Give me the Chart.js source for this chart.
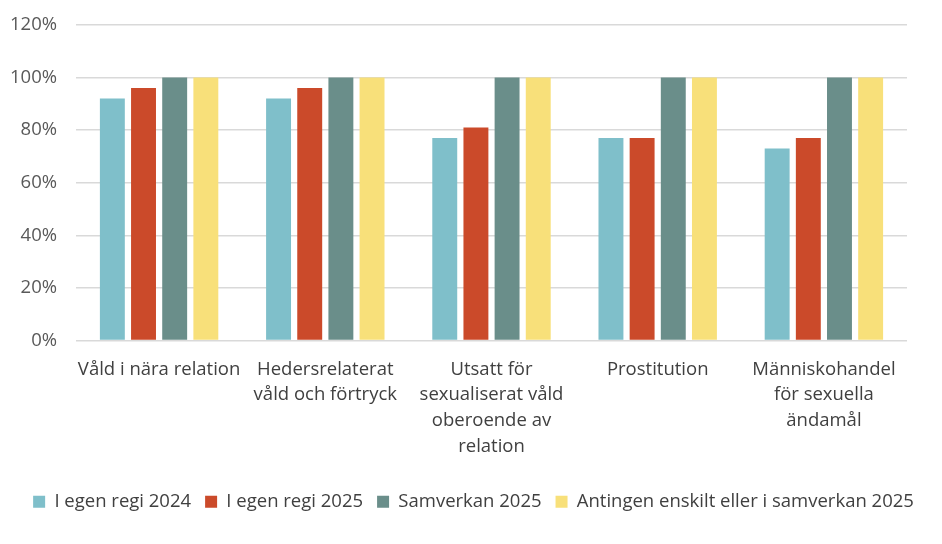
<!DOCTYPE html>
<html>
<head>
<meta charset="utf-8">
<script src="https://cdn.jsdelivr.net/npm/chart.js@4/dist/chart.umd.min.js"></script>
<style>
  html, body { margin: 0; padding: 0; background: #fff; }
  #wrap { width: 942px; height: 544px; }
</style>
</head>
<body>
<div id="wrap"><canvas id="barChart"></canvas></div>
<script>
const categories = [
    ['Våld i nära relation'],
    ['Hedersrelaterat', 'våld och förtryck'],
    ['Utsatt för', 'sexualiserat våld', 'oberoende av', 'relation'],
    ['Prostitution'],
    ['Människohandel', 'för sexuella', 'ändamål']
];
const egenRegi2024 = [92, 92, 77, 77, 73];
const egenRegi2025 = [96, 96, 81, 77, 77];
const samverkan2025 = [100, 100, 100, 100, 100];
const antingen2025 = [100, 100, 100, 100, 100];
const yTicks = [0, 20, 40, 60, 80, 100, 120];

const textColor = '#404040';
const gridColor = '#d9d9d9';

Chart.defaults.font.family = '"Open Sans", sans-serif';
Chart.defaults.font.size = 18.5;
Chart.defaults.color = textColor;

const ctx = document.getElementById('barChart').getContext('2d');
window.myChart = new Chart(ctx, {
    type: 'bar',
    data: {
        labels: categories,
        datasets: [
            { label: 'I egen regi 2024', data: egenRegi2024, backgroundColor: '#7fbfca' },
            { label: 'I egen regi 2025', data: egenRegi2025, backgroundColor: '#cb4a2a' },
            { label: 'Samverkan 2025', data: samverkan2025, backgroundColor: '#6a8e8a' },
            { label: 'Antingen enskilt eller i samverkan 2025', data: antingen2025, backgroundColor: '#f8e07a' }
        ]
    },
    options: {
        responsive: true,
        maintainAspectRatio: false,
        animation: false,
        categoryPercentage: 0.75,
        barPercentage: 0.8,
        layout: { padding: { top: 25, right: 3, left: 8, bottom: 23 } },
        plugins: {
            legend: {
                position: 'bottom',
                labels: { boxWidth: 12, boxHeight: 12, padding: 14, color: textColor }
            },
            tooltip: { enabled: false }
        },
        scales: {
            x: {
                grid: { display: false, drawTicks: false },
                border: { display: false },
                ticks: { padding: 16, maxRotation: 0, autoSkip: false, font: { lineHeight: 1.39 } },
                afterFit: scale => {
                    scale.height = 138;
                    scale.paddingLeft = 0;
                    scale.paddingRight = 0;
                }
            },
            y: {
                min: 0,
                max: 120,
                afterBuildTicks: scale => { scale.ticks = yTicks.map(v => ({ value: v })); },
                grid: { color: gridColor, lineWidth: 1.5, drawTicks: false },
                border: { display: false },
                ticks: { padding: 19, color: '#595959', callback: v => v + '%' },
                afterFit: scale => {
                    scale.width = 68;
                    scale.paddingTop = 0;
                    scale.paddingBottom = 0;
                }
            },
            // empty axis on the right, only to keep space beside the plot
            yRight: {
                position: 'right',
                grid: { display: false, drawTicks: false },
                border: { display: false },
                ticks: { display: false },
                afterFit: scale => {
                    scale.width = 32;
                    scale.paddingTop = 0;
                    scale.paddingBottom = 0;
                }
            }
        }
    }
});
</script>
</body>
</html>
